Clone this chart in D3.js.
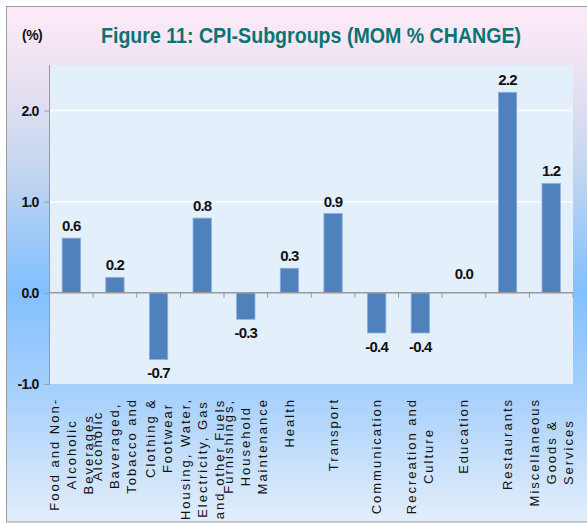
<!DOCTYPE html>
<html>
<head>
<meta charset="utf-8">
<script src="https://cdn.jsdelivr.net/npm/d3@7"></script>
<style>
  html, body { margin: 0; padding: 0; background: #ffffff; }
  svg { display: block; }
</style>
</head>
<body>
<svg id="chart" width="587" height="524"></svg>
<script>
// ---- data ----
const categories = [
  ["Food and Non-", "Alcoholic", "Beverages"],
  ["Alcoholic", "Baveraged,", "Tobacco and"],
  ["Clothing &", "Footwear"],
  ["Housing, Water,", "Electricity, Gas", "and other Fuels"],
  ["Furnishings,", "Household", "Maintenance"],
  ["Health"],
  ["Transport"],
  ["Communication"],
  ["Recreation and", "Culture"],
  ["Education"],
  ["Restaurants"],
  ["Miscellaneous", "Goods &", "Services"]
];
const values = [0.6, 0.17, -0.73, 0.82, -0.29, 0.27, 0.87, -0.44, -0.44, 0.0, 2.2, 1.2];
const valueLabels = ["0.6", "0.2", "-0.7", "0.8", "-0.3", "0.3", "0.9", "-0.4", "-0.4", "0.0", "2.2", "1.2"];
const yTicks = [-1, 0, 1, 2];
const yTickLabels = ["-1.0", "0.0", "1.0", "2.0"];
const gridValues = [1, 2];
const title = "Figure 11: CPI-Subgroups (MOM % CHANGE)";
const unitLabel = "(%)";

// ---- layout ----
const svg = d3.select("#chart");
const plot = { left: 49.5, right: 573, top: 65, bottom: 384 };
const sans = "'Liberation Sans', Arial, sans-serif";

const defs = svg.append("defs");
const grad = defs.append("linearGradient").attr("id", "bg").attr("x1", 0).attr("y1", 0).attr("x2", 0).attr("y2", 1);
[[0, "#fdebf8"], [0.1, "#f1e4f3"], [0.3, "#c8d7ee"], [0.55, "#82c0ff"], [0.76, "#a9d1fb"], [1, "#e3eefb"]]
  .forEach(([o, c]) => grad.append("stop").attr("offset", o).attr("stop-color", c));

svg.append("rect").attr("x", 6.5).attr("y", 6.5).attr("width", 620).attr("height", 515.5)
  .attr("fill", "url(#bg)").attr("stroke", "#9c9c9c").attr("stroke-width", 1);

const x = d3.scaleBand().domain(d3.range(categories.length))
  .range([plot.left, plot.right]).paddingInner(0.58).paddingOuter(0.29);
const y = d3.scaleLinear().domain([-1, 2.5]).range([plot.bottom, plot.top]);

// plot area
svg.append("rect").attr("x", plot.left).attr("y", plot.top)
  .attr("width", plot.right - plot.left).attr("height", plot.bottom - plot.top)
  .attr("fill", "#e4effc");

// gridlines
svg.append("g").selectAll("line").data(gridValues).join("line")
  .attr("x1", plot.left).attr("x2", plot.right)
  .attr("y1", d => y(d)).attr("y2", d => y(d))
  .attr("stroke", "#ffffff").attr("stroke-width", 1.5);

// bars
svg.append("g").selectAll("rect").data(values).join("rect")
  .attr("x", (d, i) => x(i))
  .attr("width", x.bandwidth())
  .attr("y", d => y(Math.max(0, d)))
  .attr("height", d => Math.abs(y(d) - y(0)))
  .attr("fill", "#4f81bd")
  .attr("stroke", "#8aaedb").attr("stroke-width", 0.8);

// y axis
const yAxis = d3.axisLeft(y).tickValues(yTicks).tickSize(5).tickPadding(6)
  .tickFormat((d, i) => yTickLabels[i]);
const gy = svg.append("g").attr("transform", `translate(${plot.left},0)`).call(yAxis);
gy.select(".domain").attr("stroke", "#9a9a9a").attr("d", `M0,${plot.top}V${plot.bottom}`);
gy.selectAll(".tick line").attr("stroke", "#9a9a9a");
gy.selectAll(".tick text").attr("font-family", sans).attr("font-weight", "bold")
  .attr("font-size", 14).attr("letter-spacing", -0.8).attr("fill", "#111");

// x axis at zero
const boundaries = d3.range(1, categories.length + 1).map(i => plot.left + x.step() * i);
svg.append("line").attr("x1", plot.left).attr("x2", plot.right)
  .attr("y1", y(0)).attr("y2", y(0)).attr("stroke", "#9a9a9a").attr("stroke-width", 1.5);
svg.append("g").selectAll("line").data(boundaries).join("line")
  .attr("x1", d => d).attr("x2", d => d)
  .attr("y1", y(0)).attr("y2", y(0) + 5)
  .attr("stroke", "#9a9a9a").attr("stroke-width", 1);

// value labels
svg.append("g").selectAll("text").data(values).join("text")
  .attr("x", (d, i) => x(i) + x.bandwidth() / 2)
  .attr("y", d => d > 0 ? y(d) - 7 : (d < 0 ? y(d) + 19 : y(0) - 14))
  .attr("text-anchor", "middle")
  .attr("font-family", sans).attr("font-weight", "bold").attr("font-size", 15)
  .attr("letter-spacing", -0.8)
  .attr("fill", "#111")
  .text((d, i) => valueLabels[i]);

// category labels
const labelTop = 398;
const lineGap = 17;
const cg = svg.append("g").selectAll("g").data(categories).join("g")
  .attr("transform", (d, i) => `translate(${x(i) + x.bandwidth() / 2},${labelTop}) rotate(-90)`);
cg.each(function (lines) {
  const g = d3.select(this);
  const n = lines.length;
  const texts = lines.map((ln, k) => g.append("text")
    .attr("font-family", sans)
    .attr("font-size", 13).attr("letter-spacing", 2)
    .attr("fill", "#111")
    .attr("text-anchor", "middle")
    .attr("y", (k - (n - 1) / 2) * lineGap + 4.5)
    .text(ln));
  const maxLen = d3.max(texts, t => t.node().getComputedTextLength());
  texts.forEach(t => t.attr("x", -maxLen / 2));
});

// title
svg.append("text").attr("x", 311).attr("y", 43)
  .attr("text-anchor", "middle")
  .attr("font-family", sans).attr("font-weight", "bold").attr("font-size", 22)
  .attr("fill", "#0b7373")
  .attr("textLength", 420).attr("lengthAdjust", "spacingAndGlyphs")
  .text(title);
svg.append("text").attr("x", 22).attr("y", 40)
  .attr("font-family", sans).attr("font-weight", "bold").attr("font-size", 14)
  .attr("letter-spacing", -0.5)
  .attr("fill", "#111")
  .text(unitLabel);
</script>
</body>
</html>
